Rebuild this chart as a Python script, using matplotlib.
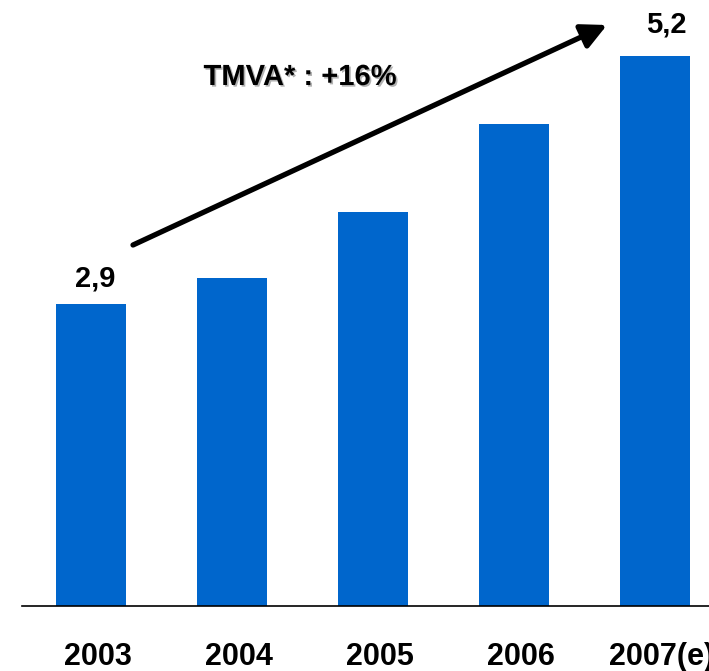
import matplotlib
matplotlib.use('Agg')
import matplotlib.pyplot as plt
import matplotlib.patheffects as pe
import matplotlib.transforms as mtransforms

plt.rcParams['font.family'] = ['Liberation Sans', 'DejaVu Sans']

years = ['2003', '2004', '2005', '2006', '2007(e)']
values = [2.9, 3.14, 3.75, 4.57, 5.2]
value_labels = {0: '2,9', 4: '5,2'}
growth_text = 'TMVA* : +16%'

bar_color = '#0066CC'

fig = plt.figure(figsize=(7.09, 6.71), dpi=100)
ax = fig.add_axes([22 / 709, 65 / 671, 687 / 709, 606 / 671])

x = list(range(len(years)))
ax.bar(x, values, width=0.5, color=bar_color)

ax.set_xlim(-0.489, 4.383)
ax.set_ylim(0.1, 5.72)

ax.set_xticks(x)
ax.set_xticklabels(years, fontsize=22, fontweight='bold')
ax.tick_params(axis='x', length=0, pad=26)
# labels sit a little right of the bar centres in the original
shift = mtransforms.ScaledTranslation(7 / 100, 0, fig.dpi_scale_trans)
for lab in ax.get_xticklabels():
    lab.set_transform(lab.get_transform() + shift)
ax.set_yticks([])
for s in ['top', 'right', 'left']:
    ax.spines[s].set_visible(False)
ax.spines['bottom'].set_color('black')
ax.spines['bottom'].set_linewidth(1.2)

# value labels on first and last bars
offsets = {0: (3, 8), 4: (8, 13)}
for i, lab in value_labels.items():
    ax.annotate(lab, xy=(x[i], values[i]), xytext=offsets[i], textcoords='offset points',
                ha='center', va='bottom', fontsize=21, fontweight='bold')

# growth arrow
ax.annotate('', xy=(607 / 709, 1 - 25 / 671), xytext=(133 / 709, 1 - 245 / 671),
            xycoords='figure fraction', textcoords='figure fraction',
            arrowprops=dict(arrowstyle='-|>', color='black', lw=3.8,
                            mutation_scale=38, shrinkA=0, shrinkB=0))

fig.text(300 / 709, 1 - 77 / 671, growth_text, ha='center', va='center',
         fontsize=21, fontweight='bold',
         path_effects=[pe.SimplePatchShadow(offset=(1.2, -1.2), shadow_rgbFace='gray', alpha=0.6),
                       pe.Normal()])

fig.savefig('out.png', dpi=100)
